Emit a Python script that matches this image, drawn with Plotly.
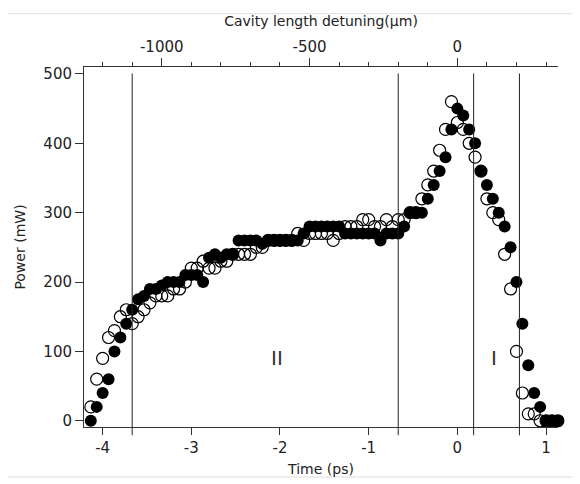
import plotly.graph_objects as go

# Cavity length detuning grid (um); time axis = detuning / 300 um per ps
detuning_um = list(range(-1240, 360, 20))
UM_PER_PS = 300.0
time_ps = [d / UM_PER_PS for d in detuning_um]

power_open = [20, 60, 90, 120, 130, 150, 160, 140, 150, 160,
              170, 180, 180, 180, 190, 190, 200, 220, 220, 230,
              220, 220, 230, 230, 240, 240, 240, 240, 250, 250,
              260, 260, 260, 260, 260, 270, 260, 270, 270, 270,
              270, 260, 270, 280, 280, 280, 290, 290, 280, 280,
              290, 280, 290, 290, 300, 300, 320, 340, 360, 390,
              420, 460, 430, 420, 400, 380, 360, 320, 300, 290,
              240, 190, 100, 40, 10, 10, 0, 0, 0, 0]

power_filled = [0, 20, 40, 60, 100, 120, 140, 160, 175, 180,
                190, 190, 195, 200, 200, 200, 210, 210, 210, 200,
                235, 240, 235, 240, 240, 260, 260, 260, 260, 255,
                260, 260, 260, 260, 260, 260, 270, 280, 280, 280,
                280, 280, 280, 270, 270, 270, 270, 270, 270, 260,
                270, 270, 270, 280, 300, 300, 300, 320, 340, 360,
                380, 420, 450, 440, 420, 400, 360, 340, 320, 300,
                280, 250, 200, 140, 80, 40, 20, 0, 0, 0]

boundaries_um = [-1100, -200, 55, 210]

time_ticks = [-4, -3, -2, -1, 0, 1]
time_ticktext = ["-4", "-3", "-2", "-1", "0", "1"]
power_ticks = [0, 100, 200, 300, 400, 500]
detuning_ticks = [-1000, -500, 0]
detuning_ticktext = ["-1000", "-500", "0"]
detuning_minor = list(range(-1200, 400, 100))

regions = [("II", -2.03, 90), ("I", 0.41, 90)]

X_RANGE = [-4.21, 1.135]
Y_RANGE = [-9, 510]
FONT = "DejaVu Sans"
AX = "#333333"

fig = go.Figure()
fig.add_trace(go.Scatter(
    x=time_ps, y=power_open, mode="markers", cliponaxis=False,
    marker=dict(symbol="circle-open", size=12, color="black",
                line=dict(width=1.2, color="black")),
    showlegend=False))
fig.add_trace(go.Scatter(
    x=time_ps, y=power_filled, mode="markers", cliponaxis=False,
    marker=dict(symbol="circle", size=12, color="black"),
    showlegend=False))

for b in boundaries_um:
    fig.add_shape(type="line", xref="x2", yref="paper",
                  x0=b, x1=b, y0=-0.023, y1=0.982,
                  line=dict(color="#222222", width=1))

for txt, tx, py in regions:
    fig.add_annotation(x=tx, y=py, xref="x", yref="y", text=txt,
                       showarrow=False, font=dict(family=FONT, size=20, color="#333333"))

# faint page rules
for yp in [1.148, -0.139]:
    fig.add_shape(type="line", xref="paper", yref="paper",
                  x0=-0.16, x1=1.07, y0=yp, y1=yp,
                  line=dict(color="#dddddd", width=1))

fig.update_layout(
    width=580, height=484,
    margin=dict(l=75, r=30, t=55, b=65),
    paper_bgcolor="white", plot_bgcolor="white",
    font=dict(family=FONT, size=15, color="#222222"),
    xaxis=dict(range=X_RANGE, tickmode="array", tickvals=time_ticks, ticktext=time_ticktext,
               ticks="outside", ticklen=7, tickcolor=AX, showline=True, linecolor=AX,
               linewidth=1, showgrid=False, zeroline=False,
               title=dict(text="Time (ps)", font=dict(size=14), standoff=8)),
    xaxis2=dict(range=[X_RANGE[0] * UM_PER_PS, X_RANGE[1] * UM_PER_PS], overlaying="x",
                side="top", anchor="y", tickmode="array", tickvals=detuning_ticks,
                ticktext=detuning_ticktext, ticks="outside", ticklen=8, tickcolor=AX,
                minor=dict(tickmode="array", tickvals=detuning_minor, ticks="outside",
                           ticklen=4, tickcolor=AX),
                showline=True, linecolor=AX, linewidth=1, showgrid=False, zeroline=False,
                title=dict(text="Cavity length detuning(μm)", font=dict(size=14), standoff=8)),
    yaxis=dict(range=Y_RANGE, tickmode="array", tickvals=power_ticks,
               ticks="outside", ticklen=8, tickcolor=AX, showline=True, linecolor=AX,
               linewidth=1, showgrid=False, zeroline=False,
               title=dict(text="Power (mW)", font=dict(size=14), standoff=14)),
)

fig.write_html("out.html")
